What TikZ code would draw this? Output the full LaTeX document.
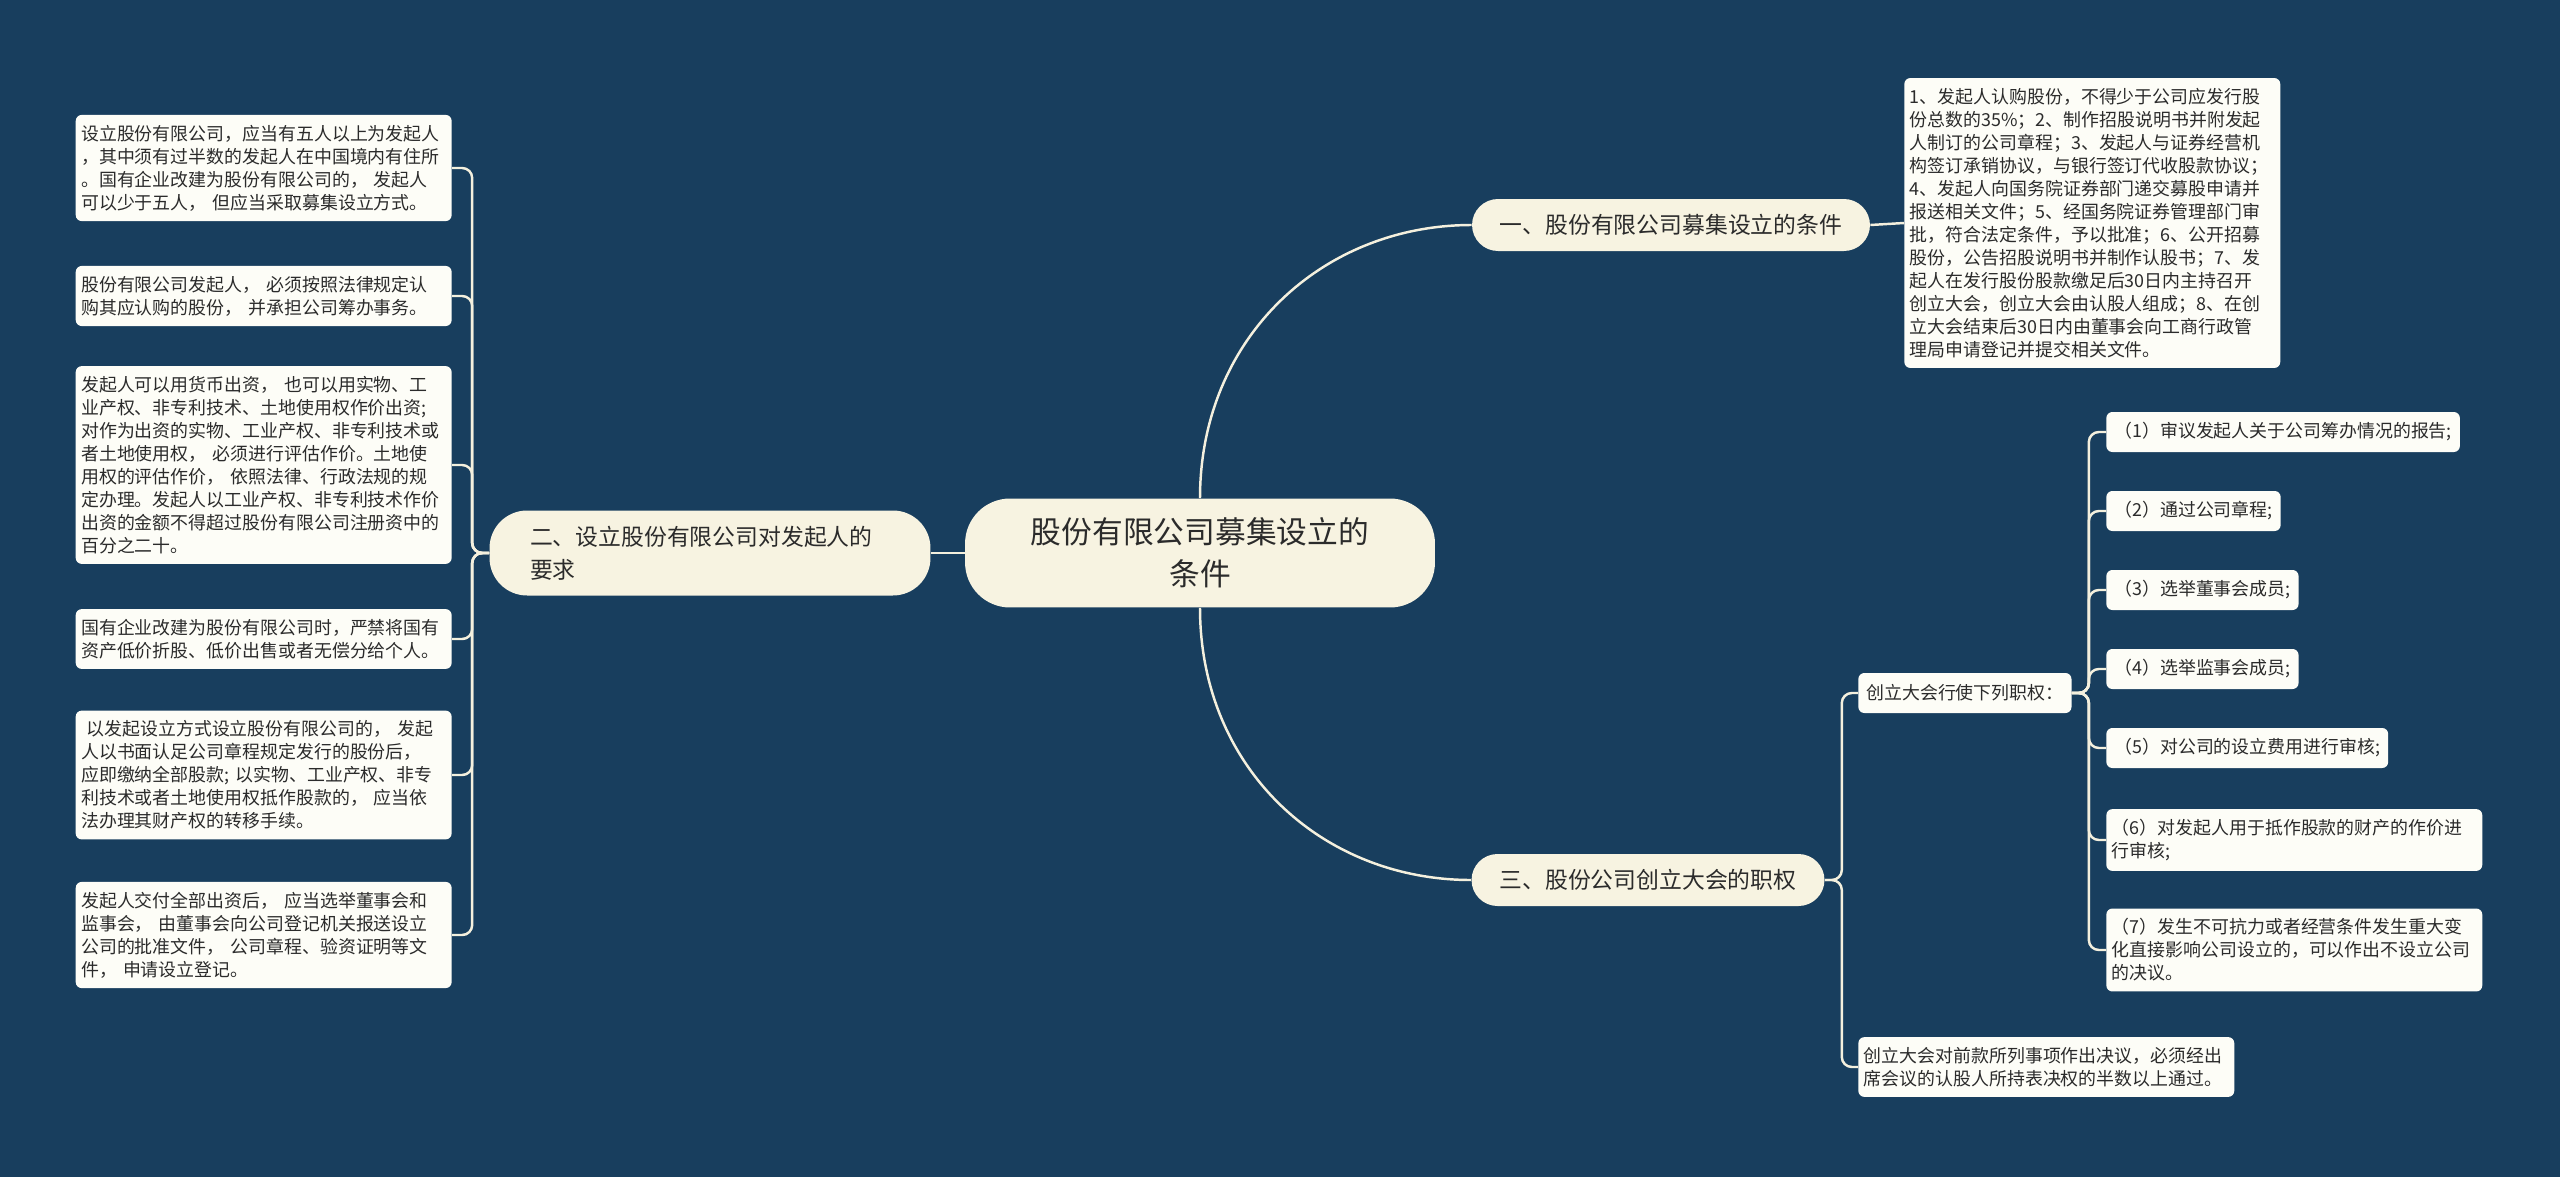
\documentclass[tikz,border=0pt]{standalone}
\usepackage{fontspec}
\newfontfamily\cjk{Noto Sans CJK SC}
\definecolor{bgblue}{HTML}{183E5E}
\definecolor{cream}{HTML}{F7F3E1}
\definecolor{paper}{HTML}{FDFDF7}
\definecolor{ink}{HTML}{2B2B2B}
\definecolor{wire}{HTML}{F4F0DE}
\tikzset{
  root/.style={fill=cream, rounded corners=0.9cm, minimum width=9.4cm, minimum height=2.18cm, align=center, text=ink, font=\cjk\fontsize{17.5}{24}\selectfont},
  topic/.style={fill=cream, rounded corners=0.52cm, minimum height=1.04cm, align=center, text=ink, font=\cjk\fontsize{13}{18.6}\selectfont},
  leaf/.style={fill=paper, rounded corners=0.12cm, text width=7.3cm, inner xsep=0.11cm, inner ysep=0.2cm, align=left, text=ink, font=\cjk\fontsize{10.2}{13.1}\selectfont},
  sub/.style={fill=paper, rounded corners=0.12cm, minimum height=0.8cm, inner xsep=0.16cm, text=ink, font=\cjk\fontsize{10.2}{13.1}\selectfont},
  link/.style={draw=wire, line width=1.4pt, rounded corners=0.2cm},
}
\begin{document}
\begin{tikzpicture}[x=0.02cm, y=-0.02cm]
\fill[bgblue] (0,0) rectangle (2560,1177);
\useasboundingbox (0,0) rectangle (2560,1177);
% centre and main topics
\node[root] (root) at (1200,553) {股份有限公司募集设立的\\条件};
\node[topic, minimum width=7.96cm] (cond) at (1671,225) {一、股份有限公司募集设立的条件};
\node[topic, minimum width=8.82cm, minimum height=1.7cm, rounded corners=0.75cm, text width=7.2cm, align=left] (req) at (710,553) {二、设立股份有限公司对发起人的\\要求};
\node[topic, minimum width=7.06cm] (power) at (1648,880) {三、股份公司创立大会的职权};
% one: conditions
\node[leaf, anchor=west] (rules) at (1904,223) {1、发起人认购股份，不得少于公司应发行股\\份总数的35\%；2、制作招股说明书并附发起\\人制订的公司章程；3、发起人与证券经营机\\构签订承销协议，与银行签订代收股款协议；\\4、发起人向国务院证券部门递交募股申请并\\报送相关文件；5、经国务院证券管理部门审\\批，符合法定条件，予以批准；6、公开招募\\股份，公告招股说明书并制作认股书；7、发\\起人在发行股份股款缴足后30日内主持召开\\创立大会，创立大会由认股人组成；8、在创\\立大会结束后30日内由董事会向工商行政管\\理局申请登记并提交相关文件。};
% two: requirements on founders
\node[leaf, anchor=east] (rq1) at (452,168) {设立股份有限公司，应当有五人以上为发起人\\，其中须有过半数的发起人在中国境内有住所\\。国有企业改建为股份有限公司的， 发起人\\可以少于五人， 但应当采取募集设立方式。};
\node[leaf, anchor=east] (rq2) at (452,296) {股份有限公司发起人， 必须按照法律规定认\\购其应认购的股份， 并承担公司筹办事务。};
\node[leaf, anchor=east] (rq3) at (452,465) {发起人可以用货币出资， 也可以用实物、工\\业产权、非专利技术、土地使用权作价出资;\\对作为出资的实物、工业产权、非专利技术或\\者土地使用权， 必须进行评估作价。土地使\\用权的评估作价， 依照法律、行政法规的规\\定办理。发起人以工业产权、非专利技术作价\\出资的金额不得超过股份有限公司注册资中的\\百分之二十。};
\node[leaf, anchor=east] (rq4) at (452,639) {国有企业改建为股份有限公司时，严禁将国有\\资产低价折股、低价出售或者无偿分给个人。};
\node[leaf, anchor=east] (rq5) at (452,775) {\hspace*{0.3em}以发起设立方式设立股份有限公司的， 发起\\人以书面认足公司章程规定发行的股份后，\\应即缴纳全部股款; 以实物、工业产权、非专\\利技术或者土地使用权抵作股款的， 应当依\\法办理其财产权的转移手续。};
\node[leaf, anchor=east] (rq6) at (452,935) {发起人交付全部出资后， 应当选举董事会和\\监事会， 由董事会向公司登记机关报送设立\\公司的批准文件， 公司章程、验资证明等文\\件， 申请设立登记。};
% three: powers of the founding meeting
\node[sub, anchor=west] (pwlist) at (1858,693) {创立大会行使下列职权：};
\node[leaf, anchor=west] (pwvote) at (1858,1067) {创立大会对前款所列事项作出决议，必须经出\\席会议的认股人所持表决权的半数以上通过。};
\node[sub, anchor=west] (pw1) at (2106,432) {（1）审议发起人关于公司筹办情况的报告;};
\node[sub, anchor=west] (pw2) at (2106,511) {（2）通过公司章程;};
\node[sub, anchor=west] (pw3) at (2106,590) {（3）选举董事会成员;};
\node[sub, anchor=west] (pw4) at (2106,669) {（4）选举监事会成员;};
\node[sub, anchor=west] (pw5) at (2106,748) {（5）对公司的设立费用进行审核;};
\node[leaf, anchor=west] (pw6) at (2106,840) {（6）对发起人用于抵作股款的财产的作价进\\行审核;};
\node[leaf, anchor=west] (pw7) at (2106,950) {（7）发生不可抗力或者经营条件发生重大变\\化直接影响公司设立的，可以作出不设立公司\\的决议。};
% connectors
\draw[link] (root.west) -- (req.east);
\draw[link] (root.north) .. controls +(0,-160) and +(-150,0) .. (cond.west);
\draw[link] (root.south) .. controls +(0,160) and +(-150,0) .. (power.west);
\draw[link] (cond.east) -- (rules.west);
\foreach \i in {1,...,6}
  \draw[link] (req.west) -- ++(-17,0) |- (rq\i.east);
\draw[link] (power.east) -- ++(17,0) |- (pwlist.west);
\draw[link] (power.east) -- ++(17,0) |- (pwvote.west);
\foreach \i in {1,...,7}
  \draw[link] (pwlist.east) -- ++(17,0) |- (pw\i.west);
\end{tikzpicture}
\end{document}
